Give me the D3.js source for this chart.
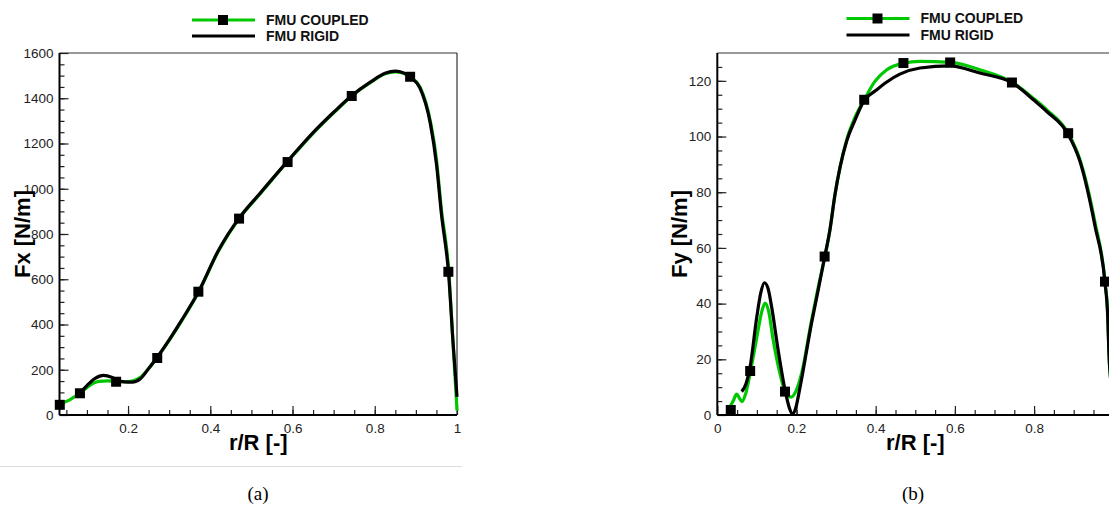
<!DOCTYPE html>
<html lang="en">
    <head>
        <meta charset="utf-8">
        <title>FMU coupled vs rigid</title>
        <script type="text/javascript" src="https://cdn.jsdelivr.net/npm/d3@7"></script>
        <style>
            body { margin: 0; background: #fff; }
            text { font-family: "Liberation Sans", Arial, sans-serif; }
        </style>
    </head>
    <body>
        <script type="text/javascript">
            // series labels
            var seriesNames = ["FMU COUPLED", "FMU RIGID"]

            // Fx panel, coupled run (green line)
            var fxCoupledR = [0.0333, 0.05, 0.065, 0.083, 0.10, 0.115, 0.13, 0.15, 0.172, 0.19, 0.21, 0.23, 0.25, 0.27,
                0.30, 0.33, 0.372, 0.42, 0.47, 0.52, 0.587, 0.65, 0.70, 0.743, 0.79, 0.825, 0.85, 0.87, 0.887,
                0.91, 0.935, 0.95, 0.962, 0.98, 0.99, 1.0]
            var fxCoupled = [47, 60, 75, 96, 122, 140, 149, 151, 148, 147, 150, 167, 205, 252,
                330, 415, 545, 725, 868, 975, 1118, 1245, 1335, 1408, 1470, 1508, 1517, 1510, 1493,
                1450, 1300, 1130, 910, 635, 330, 20]

            // Fx panel, rigid run (black line)
            var fxRigidR = [0.075, 0.083, 0.10, 0.12, 0.14, 0.16, 0.172, 0.19, 0.21, 0.23, 0.25, 0.27,
                0.30, 0.33, 0.372, 0.42, 0.47, 0.52, 0.587, 0.65, 0.70, 0.743, 0.79, 0.825, 0.85, 0.87, 0.887,
                0.91, 0.935, 0.95, 0.962, 0.98, 0.99, 1.0]
            var fxRigid = [88, 98, 130, 162, 175, 167, 156, 146, 145, 160, 205, 253,
                332, 418, 547, 728, 870, 978, 1120, 1248, 1338, 1410, 1472, 1510, 1520, 1512, 1492,
                1445, 1290, 1110, 890, 615, 330, 80]

            // Fy panel, coupled run
            var fyCoupledR = [0.032, 0.04, 0.049, 0.056, 0.062, 0.072, 0.084, 0.10, 0.112, 0.121, 0.13, 0.141, 0.158,
                0.171, 0.186, 0.20, 0.213, 0.238, 0.255, 0.272, 0.285, 0.297, 0.31, 0.327, 0.348, 0.371,
                0.398, 0.428, 0.47, 0.512, 0.589, 0.663, 0.746, 0.80, 0.832, 0.886, 0.916, 0.954, 0.979,
                0.986, 0.989, 0.995, 1.0]
            var fyCoupled = [3, 5, 7.5, 6, 4.8, 7.8, 15.8, 28, 37, 40.2, 37, 27, 15,
                8.4, 6.4, 9, 15, 34, 46, 57, 67, 79, 89, 99, 107, 113.2,
                119.8, 124, 126.3, 127, 126.6, 124, 119.4, 113.5, 109.6, 101.2, 91.6, 69, 48,
                36, 22, 10, 0]

            // Fy panel, rigid run
            var fyRigidR = [0.0616, 0.072, 0.0825, 0.0995, 0.11, 0.119, 0.128, 0.137, 0.154, 0.171, 0.182, 0.190,
                0.198, 0.209, 0.238, 0.255, 0.270, 0.285, 0.297, 0.31, 0.327, 0.348, 0.371, 0.40, 0.428,
                0.461, 0.512, 0.588, 0.663, 0.746, 0.80, 0.832, 0.886, 0.916, 0.954, 0.979, 0.986, 0.989,
                0.995, 1.0]
            var fyRigid = [8.4, 11, 17, 35, 44, 47.5, 45.5, 39, 23, 9, 2.5, 0.3,
                2.5, 10, 33, 45, 56, 67, 79, 89, 98.5, 106, 113, 116.5, 119.6,
                122.4, 124.6, 125.4, 122.8, 119.2, 113, 109, 100.8, 91, 67.7, 47.5, 35, 22,
                10, 0]

            // square symbols on the coupled curve
            var markerR = [0.034, 0.083, 0.171, 0.271, 0.371, 0.47, 0.588, 0.744, 0.886, 0.979]
            var markerFx = [45, 96, 147, 252, 545, 868, 1118, 1410, 1495, 633]
            var markerFy = [1.8, 15.8, 8.4, 56.9, 113.2, 126.4, 126.6, 119.4, 101.2, 47.9]

            // axis ticks
            var fxTicks = [0, 200, 400, 600, 800, 1000, 1200, 1400, 1600]
            var fyTicks = [0, 20, 40, 60, 80, 100, 120]
            var rTicksA = [0.2, 0.4, 0.6, 0.8, 1]
            var rTicksB = [0, 0.2, 0.4, 0.6, 0.8]

            var green = "#00c800"

            var svg = d3.select("body").append("svg")
                .attr("width", 1109)
                .attr("height", 506)
                .style("display", "block")

            svg.append("rect").attr("width", 1109).attr("height", 506).attr("fill", "#fff")

            // faint rule under the left panel
            svg.append("line")
                .attr("x1", 0).attr("x2", 462)
                .attr("y1", 466.5).attr("y2", 466.5)
                .attr("stroke", "#dcdcdc").attr("stroke-width", 1)

            function zip(xs, ys) {
                return xs.map(function (x, i) { return [x, ys[i]] })
            }

            function panel(o) {
                var g = svg.append("g")
                var x = d3.scaleLinear().domain(o.xDomain).range([o.left, o.right])
                var y = d3.scaleLinear().domain(o.yDomain).range([o.bottom, o.top])

                // frame: thin top/right, heavier left/bottom
                g.append("line").attr("x1", o.left).attr("x2", o.right)
                    .attr("y1", o.top).attr("y2", o.top)
                    .attr("stroke", "#333").attr("stroke-width", 1.2)
                g.append("line").attr("x1", o.right).attr("x2", o.right)
                    .attr("y1", o.top).attr("y2", o.bottom)
                    .attr("stroke", "#333").attr("stroke-width", 1.2)

                // minor ticks
                g.append("g").attr("transform", "translate(0," + o.bottom + ")")
                    .call(d3.axisBottom(x).tickValues(o.xMinor).tickSize(-5).tickFormat(""))
                g.append("g").attr("transform", "translate(" + o.left + ",0)")
                    .call(d3.axisLeft(y).tickValues(o.yMinor).tickSize(-5).tickFormat(""))

                // major ticks with labels
                var xa = g.append("g").attr("transform", "translate(0," + o.bottom + ")")
                    .call(d3.axisBottom(x).tickValues(o.xTicks).tickSize(-9).tickPadding(5)
                        .tickFormat(function (d) { return d === 1 ? "1" : d === 0 ? "0" : d3.format(".1f")(d) }))
                g.append("g").attr("transform", "translate(" + o.left + ",0)")
                    .call(d3.axisLeft(y).tickValues(o.yTicks).tickSize(-9).tickPadding(6)
                        .tickFormat(d3.format("d")))

                g.selectAll(".domain").remove()
                g.selectAll(".tick line").attr("stroke", "#222").attr("stroke-width", 1.2)
                g.selectAll(".tick text").attr("fill", "#222").style("font-size", "13.5px")
                    .style("font-family", "'Liberation Sans', Arial, sans-serif")
                xa.selectAll("text").attr("dy", "0.95em")

                // main axis lines
                g.append("line").attr("x1", o.left).attr("x2", o.left)
                    .attr("y1", o.top).attr("y2", o.bottom)
                    .attr("stroke", "#000").attr("stroke-width", 2)
                g.append("line").attr("x1", o.left).attr("x2", o.right)
                    .attr("y1", o.bottom).attr("y2", o.bottom)
                    .attr("stroke", "#000").attr("stroke-width", 2)

                var line = d3.line()
                    .x(function (d) { return x(d[0]) })
                    .y(function (d) { return y(d[1]) })
                    .curve(d3.curveMonotoneX)

                g.append("path").datum(o.coupled)
                    .attr("d", line).attr("fill", "none")
                    .attr("stroke", green).attr("stroke-width", 3.2)
                g.append("path").datum(o.rigid)
                    .attr("d", line).attr("fill", "none")
                    .attr("stroke", "#000").attr("stroke-width", 3.2)

                g.selectAll(".mk").data(o.markers).enter()
                    .append("rect").attr("class", "mk")
                    .attr("x", function (d) { return x(d[0]) - 5 })
                    .attr("y", function (d) { return y(d[1]) - 5 })
                    .attr("width", 10).attr("height", 10)
                    .attr("fill", "#000")

                // axis titles
                var cx = (o.left + o.right) / 2
                g.append("text").attr("x", cx).attr("y", 450)
                    .attr("text-anchor", "middle")
                    .style("font-weight", "bold").style("font-size", "22px")
                    .text("r/R [-]")
                g.append("text")
                    .attr("transform", "translate(" + o.titleX + "," + ((o.top + o.bottom) / 2) + ") rotate(-90)")
                    .attr("text-anchor", "middle")
                    .style("font-weight", "bold").style("font-size", "22px")
                    .text(o.yTitle)

                // legend
                var lg = g.append("g")
                seriesNames.forEach(function (name, i) {
                    var ly = o.legendY[i]
                    lg.append("line").attr("x1", o.legendX).attr("x2", o.legendX + 63)
                        .attr("y1", ly).attr("y2", ly)
                        .attr("stroke", i === 0 ? green : "#000").attr("stroke-width", 3.2)
                    if (i === 0) {
                        lg.append("rect").attr("x", o.legendX + 31 - 5).attr("y", ly - 5)
                            .attr("width", 10).attr("height", 10).attr("fill", "#000")
                    }
                    lg.append("text").attr("x", o.legendX + 74).attr("y", ly + 4.8)
                        .style("font-weight", "bold").style("font-size", "14px")
                        .attr("fill", "#111")
                        .text(name)
                })

                // caption
                svg.append("text").attr("x", o.captionX).attr("y", 500)
                    .attr("text-anchor", "middle")
                    .style("font-family", "'Liberation Serif', 'Times New Roman', serif")
                    .style("font-size", "19px")
                    .text(o.caption)
            }

            panel({
                left: 59.5, right: 457, top: 53, bottom: 415,
                xDomain: [0.0333, 1], yDomain: [0, 1600],
                xTicks: rTicksA, yTicks: fxTicks,
                xMinor: d3.range(1, 20).map(function (i) { return i * 0.05 }),
                yMinor: d3.range(1, 32).map(function (i) { return i * 50 }),
                coupled: zip(fxCoupledR, fxCoupled),
                rigid: zip(fxRigidR, fxRigid),
                markers: zip(markerR, markerFx),
                yTitle: "Fx [N/m]", titleX: 30,
                legendX: 192, legendY: [20, 36],
                caption: "(a)", captionX: 258
            })

            panel({
                left: 717.3, right: 1113.3, top: 53, bottom: 415,
                xDomain: [0, 1], yDomain: [0, 130],
                xTicks: rTicksB, yTicks: fyTicks,
                xMinor: d3.range(1, 20).map(function (i) { return i * 0.05 }),
                yMinor: d3.range(1, 26).map(function (i) { return i * 5 }),
                coupled: zip(fyCoupledR, fyCoupled),
                rigid: zip(fyRigidR, fyRigid),
                markers: zip(markerR, markerFy),
                yTitle: "Fy [N/m]", titleX: 687,
                legendX: 846.5, legendY: [18.5, 35],
                caption: "(b)", captionX: 913
            })
        </script>
    </body>
</html>
